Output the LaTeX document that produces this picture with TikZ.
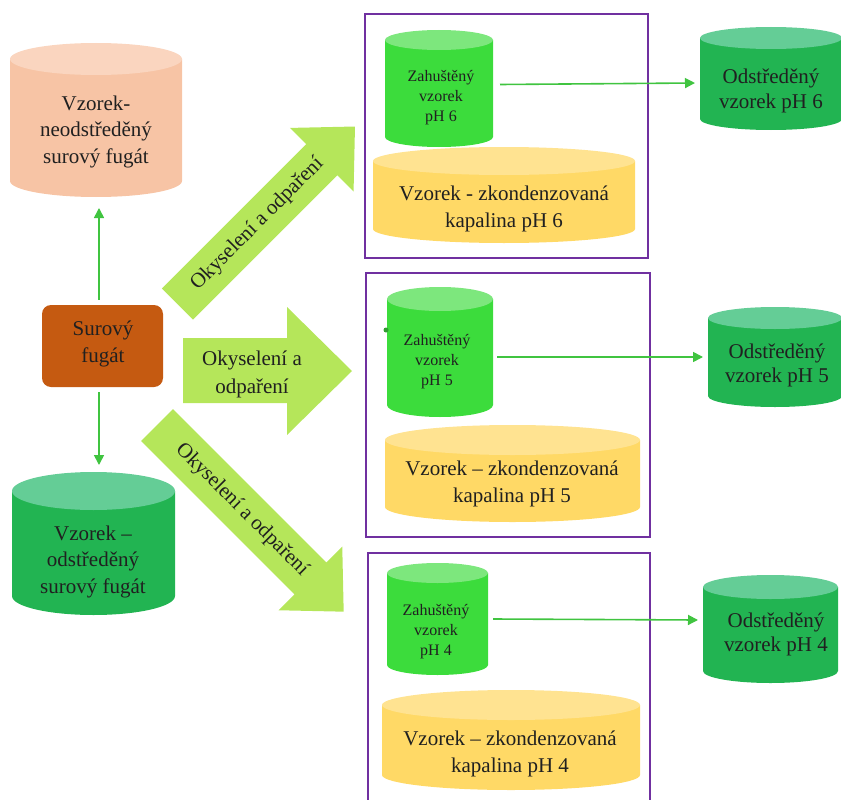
\documentclass[tikz,border=0pt]{standalone}
\usepackage{fontspec}
\setmainfont{Liberation Serif}
\usetikzlibrary{arrows.meta}
\definecolor{peachbody}{HTML}{F7C4A5}
\definecolor{peachtop}{HTML}{FAD5BF}
\definecolor{surfill}{HTML}{C55A11}
\definecolor{dgbody}{HTML}{22B452}
\definecolor{dgtop}{HTML}{64CD96}
\definecolor{sgbody}{HTML}{3CDC3C}
\definecolor{sgtop}{HTML}{7DE77D}
\definecolor{ybody}{HTML}{FFD966}
\definecolor{ytop}{HTML}{FFE391}
\definecolor{arrowg}{HTML}{B5E65A}
\definecolor{purp}{HTML}{7030A0}
\definecolor{lineg}{HTML}{40C440}
\definecolor{txtc}{HTML}{202020}
\newcommand\drawcyl[8]{%
  \pgfmathsetmacro\cylcx{(#2+#3)/2}%
  \pgfmathsetmacro\cylrx{(#3-#2)/2}%
  \pgfmathsetmacro\cylcy{(#4+#5)/2}%
  \pgfmathsetmacro\cylhh{#5-#4+2*#6}%
  \pgfmathsetmacro\cylww{#3-#2}%
  \fill[#7] (#2,#4) -- (#2,#5) arc[start angle=180,end angle=0,x radius=\cylrx,y radius=#6] -- (#3,#4) -- cycle;
  \fill[#8] (\cylcx,#4) ellipse[x radius=\cylrx,y radius=#6];
  \node[inner sep=0pt,outer sep=0pt,minimum width=\cylww pt,minimum height=\cylhh pt] (#1) at (\cylcx,\cylcy) {};
}
\begin{document}
\begin{tikzpicture}[x=1pt,y=-1pt,
  txt/.style={align=center,inner sep=0pt,text=txtc,font=\fontsize{21}{26.5}\selectfont},
  rtxt/.style={align=center,inner sep=0pt,text=txtc,font=\fontsize{21}{24.5}\selectfont},
  smalltxt/.style={align=center,inner sep=0pt,text=txtc,font=\fontsize{16}{20}\selectfont},
  garrow/.style={draw=lineg,line width=1.6pt,-{Triangle[length=10pt,width=10pt]}},
  bigarrow/.style={fill=arrowg},
  pbox/.style={draw=purp,line width=1.8pt,inner sep=0pt}]
\useasboundingbox (0,0) rectangle (841,800);
\clip (0,0) rectangle (841,800);

% big arrows
\begin{scope}[shift={(177.5,304)},rotate=45]
  \fill[arrowg] (0,-22) -- (204,-22) -- (204,-45) -- (251,0) -- (204,45) -- (204,22) -- (0,22) -- cycle;
  \node[txt,rotate=45] (arr1t) at (113,0) {Okyselení a odpaření};
\end{scope}
\fill[arrowg] (183,338) -- (287,338) -- (287,307) -- (352,371) -- (287,435) -- (287,403) -- (183,403) -- cycle;
\node[txt,font=\fontsize{21}{28}\selectfont] (arr2t) at (252,374) {Okyselení a\\odpaření};
\begin{scope}[shift={(157,425)},rotate=-45]
  \fill[arrowg] (0,-22.5) -- (217,-22.5) -- (217,-45) -- (264,0) -- (217,45) -- (217,22.5) -- (0,22.5) -- cycle;
  \node[txt,rotate=-45] (arr3t) at (120,0) {Okyselení a odpaření};
\end{scope}

% purple boxes
\node[pbox,minimum width=283pt,minimum height=244pt] (box1) at (506.5,136) {};
\node[pbox,minimum width=284pt,minimum height=264pt] (box2) at (508,405) {};
\node[pbox,minimum width=282pt,minimum height=252pt] (box3) at (509,679) {};

% left column
\drawcyl{peach}{10}{182}{59}{181}{16}{peachbody}{peachtop}
\node[txt] (peacht) at (96,131.5) {Vzorek-\\neodstředěný\\surový fugát};
\node[fill=surfill,rounded corners=9pt,minimum width=121pt,minimum height=82pt,inner sep=0pt] (sur) at (102.5,346) {};
\node[txt,font=\fontsize{21}{27}\selectfont] (surt) at (103,343.5) {Surový\\fugát};
\drawcyl{gcyl}{12}{175}{491}{596}{19}{dgbody}{dgtop}
\node[txt] (gcylt) at (93,561.5) {Vzorek –\\odstředěný\\surový fugát};

% small green cylinders
\drawcyl{s1}{385}{493}{40}{137}{10}{sgbody}{sgtop}
\node[smalltxt] (s1t) at (441,98) {Zahuštěný\\vzorek\\pH 6};
\drawcyl{s2}{387}{493}{299}{405}{12}{sgbody}{sgtop}
\node[smalltxt] (s2t) at (437,362) {Zahuštěný\\vzorek\\pH 5};
\fill[lineg!80!black] (386,330) circle[radius=2.5];
\drawcyl{s3}{387}{488}{573}{665}{10}{sgbody}{sgtop}
\node[smalltxt] (s3t) at (436,632) {Zahuštěný\\vzorek\\pH 4};

% yellow cylinders
\drawcyl{y1}{373}{635}{161}{229}{14}{ybody}{ytop}
\node[txt,font=\fontsize{21}{27}\selectfont] (y1t) at (504,208.5) {Vzorek - zkondenzovaná\\kapalina pH 6};
\drawcyl{y2}{385}{640}{440}{507}{15}{ybody}{ytop}
\node[txt,font=\fontsize{21}{27}\selectfont] (y2t) at (512,483.5) {Vzorek – zkondenzovaná\\kapalina pH 5};
\drawcyl{y3}{382}{640}{705}{775}{15}{ybody}{ytop}
\node[txt,font=\fontsize{21}{27}\selectfont] (y3t) at (510,753.5) {Vzorek – zkondenzovaná\\kapalina pH 4};

% right cylinders
\drawcyl{r1}{700}{842}{38}{119}{11}{dgbody}{dgtop}
\node[rtxt] (r1t) at (771,91) {Odstředěný\\vzorek pH 6};
\drawcyl{r2}{708}{842}{318}{396}{11}{dgbody}{dgtop}
\node[rtxt] (r2t) at (777,365.5) {Odstředěný\\vzorek pH 5};
\drawcyl{r3}{703}{838}{587}{671}{12}{dgbody}{dgtop}
\node[rtxt] (r3t) at (776,634.5) {Odstředěný\\vzorek pH 4};

% connectors
\draw[garrow] ([shift={(-3.5,-5)}]sur.north) -- ([shift={(3,11)}]peach.south);
\draw[garrow] ([shift={(-3.5,5)}]sur.south) -- ([shift={(5.5,-7)}]gcyl.north);
\draw[garrow] ([shift={(7,-4)}]s1.east) -- ([shift={(-5,4.5)}]r1.west);
\draw[garrow] ([shift={(4,5)}]s2.east) -- ([shift={(-5,0)}]r2.west);
\draw[garrow] ([shift={(5,0)}]s3.east) -- ([shift={(-5,-9)}]r3.west);
\end{tikzpicture}
\end{document}
